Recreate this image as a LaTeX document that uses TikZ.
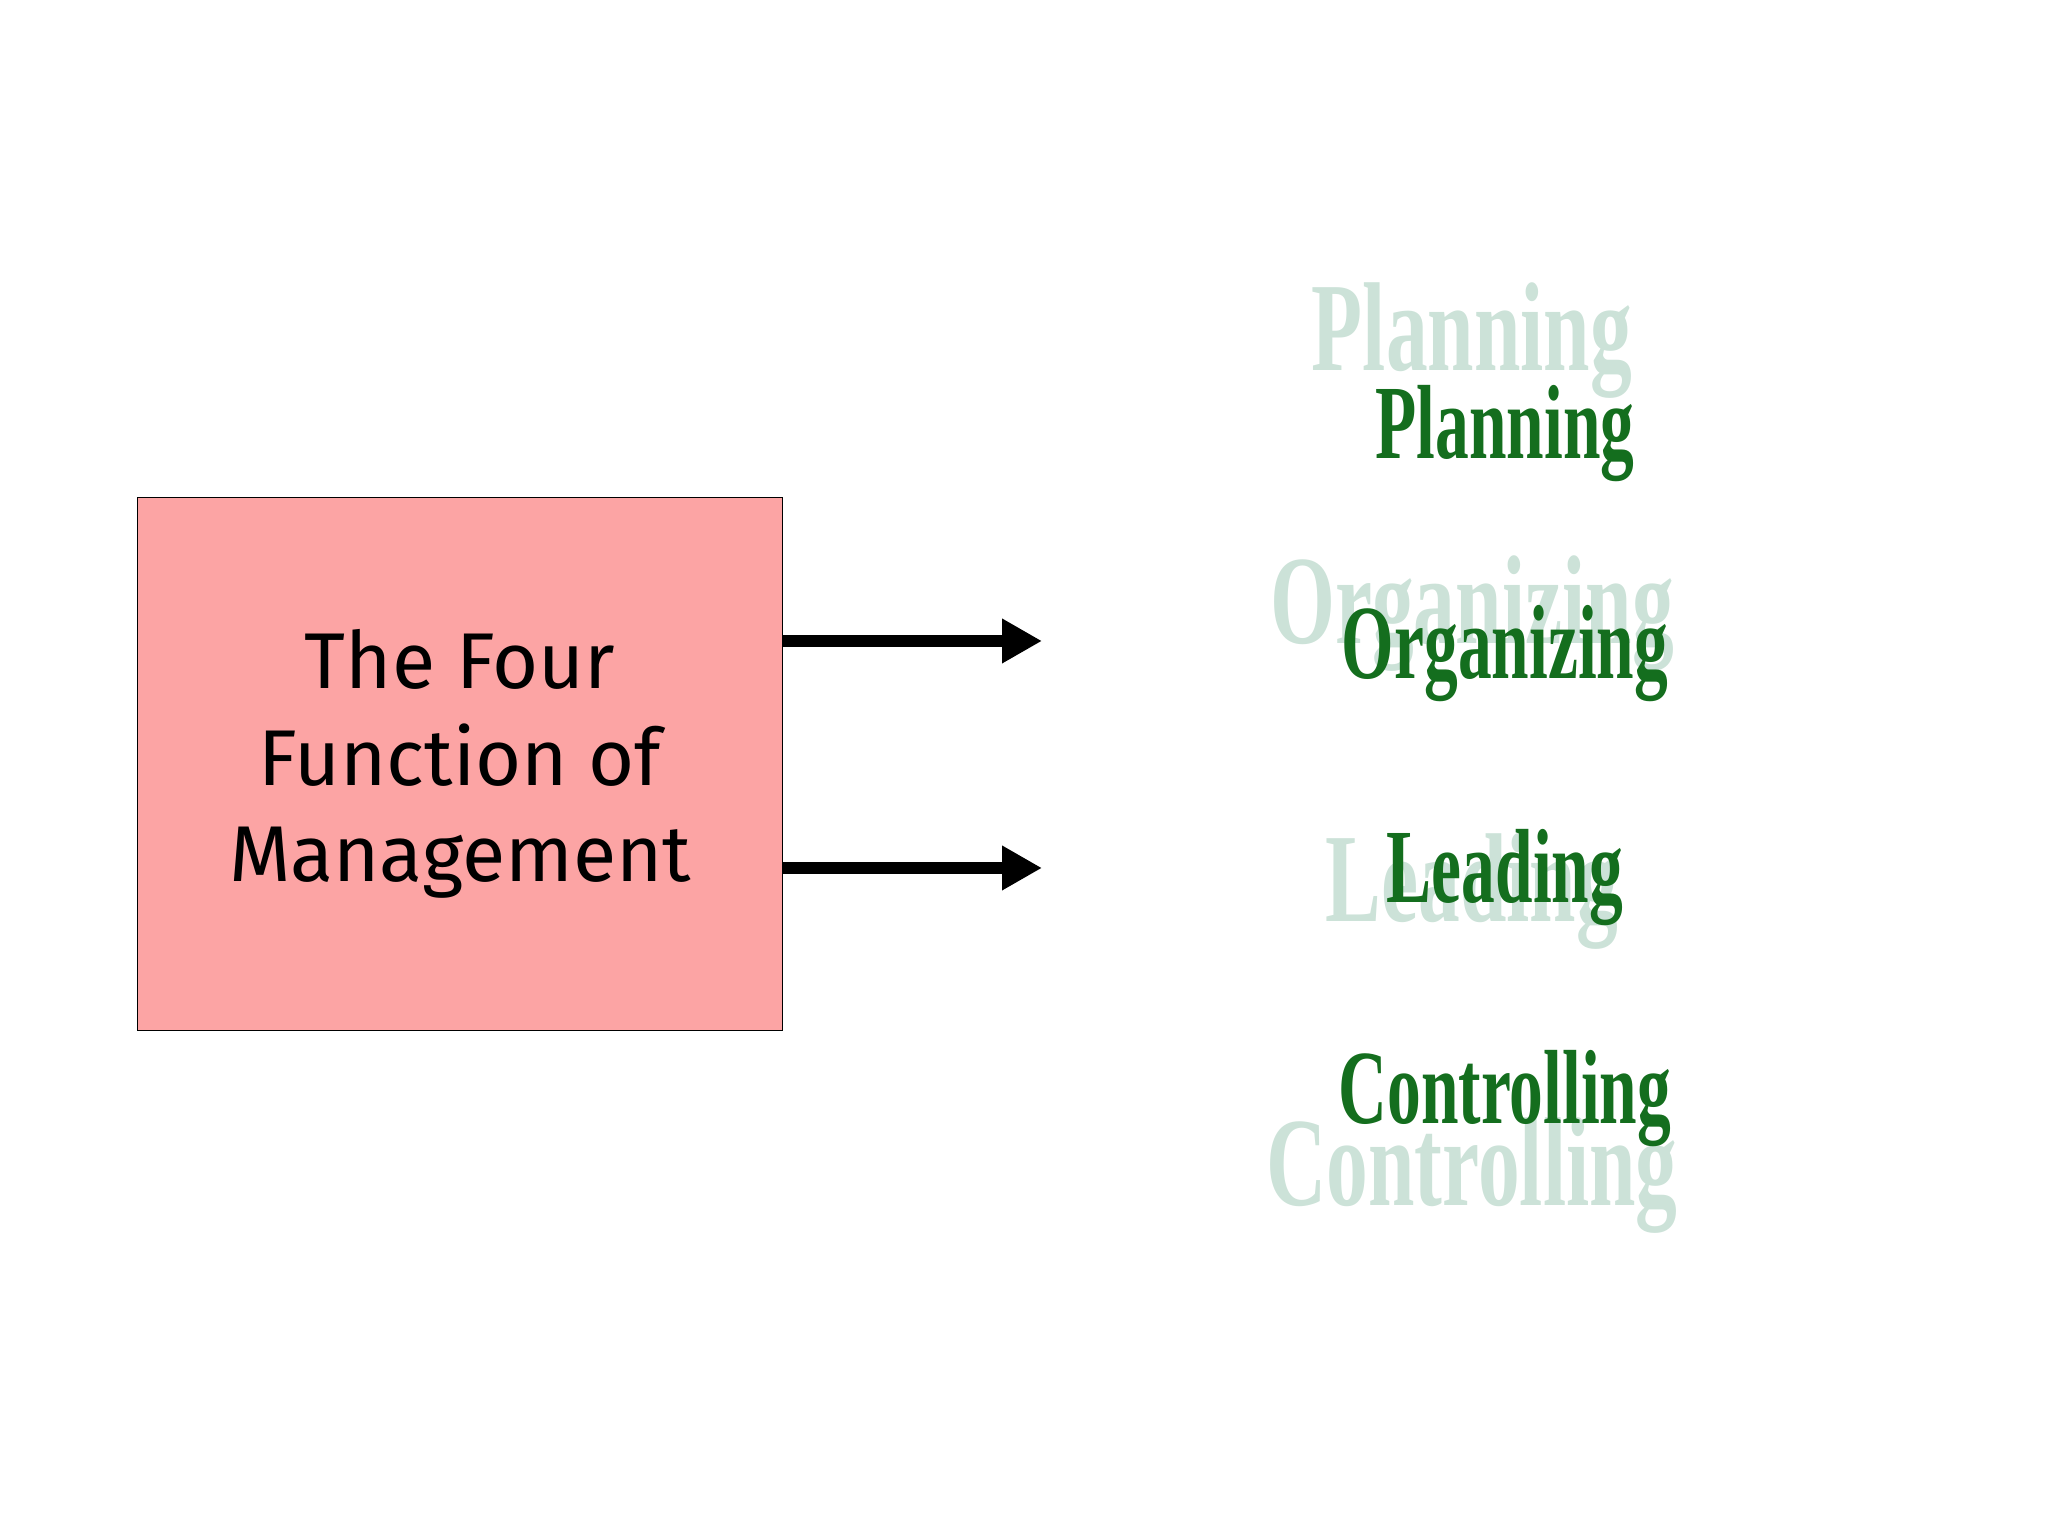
\documentclass[tikz,border=0pt]{standalone}
\usepackage{fontspec}
\setmainfont{Liberation Serif}
\newfontfamily\boxfont{Fira Sans}
\definecolor{boxpink}{RGB}{252,164,164}
\definecolor{dgreen}{RGB}{20,110,30}
\definecolor{fgreen}{RGB}{204,226,216}
\tikzset{
  dark/.style={text=dgreen,font=\fontsize{30}{30}\selectfont\bfseries,xscale=0.64,inner sep=0},
  faded/.style={text=fgreen,font=\fontsize{36}{36}\selectfont\bfseries,xscale=0.66,inner sep=0},
  arr/.style={line width=3.2pt,-{Triangle[length=0.4cm,width=0.42cm]}}
}
\usetikzlibrary{arrows.meta}
\begin{document}
\begin{tikzpicture}
\useasboundingbox (0,0) rectangle (20.48,15.36);
\node[draw=black,fill=boxpink,minimum width=6.45cm,minimum height=5.33cm,inner sep=0] (box) at (4.6,7.72) {};
\node[font=\boxfont\fontsize{22.5}{27.4}\selectfont,align=center] (t) at (4.6,7.72) {The Four\\Function of\\Management};
\coordinate (e1) at (10.42,8.95);
\coordinate (e2) at (10.42,6.68);
\draw[arr] (box.east |- e1) -- (e1);
\draw[arr] (box.east |- e2) -- (e2);
\node[faded] (fp) at (14.72,11.95) {Planning};
\node[faded] (fo) at (14.72,9.22) {Organizing};
\node[faded] (fl) at (14.72,6.44) {Leading};
\node[faded] (fc) at (14.72,3.6) {Controlling};
\node[dark] (p) at (15.05,11.02) {Planning};
\node[dark] (o) at (15.05,8.82) {Organizing};
\node[dark] (l) at (15.05,6.58) {Leading};
\node[dark] (c) at (15.05,4.37) {Controlling};
\end{tikzpicture}
\end{document}
